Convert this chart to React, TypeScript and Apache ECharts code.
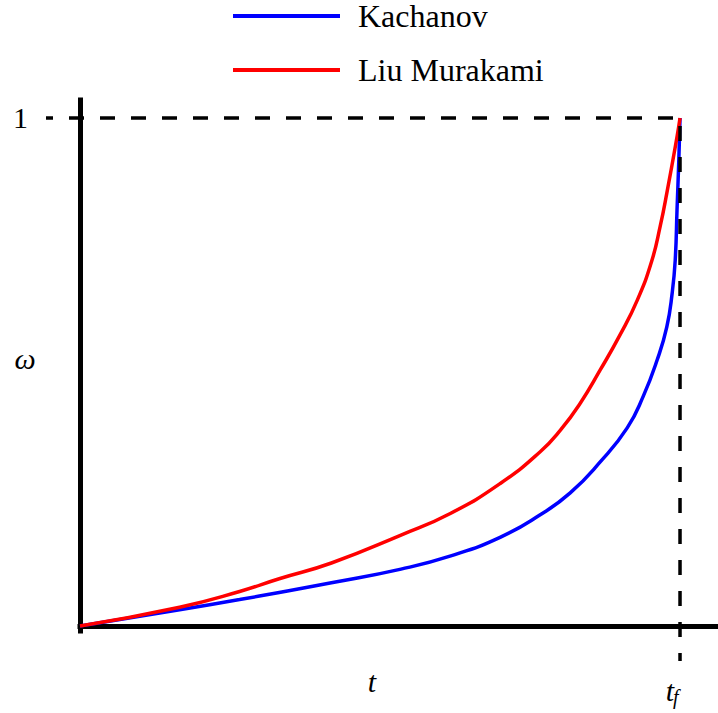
import React, { useEffect, useRef } from "react";
import * as echarts from "echarts";

// Normalised time t/t_f and damage ω for the two creep-damage models
const SERIES_NAMES = ["Kachanov", "Liu Murakami"];

const KACHANOV_T = [0, 0.166, 0.266, 0.332, 0.419, 0.535, 0.618, 0.701, 0.767, 0.817, 0.867, 0.912, 0.939, 0.962, 0.978, 0.987, 0.992, 0.995, 0.998, 1];
const KACHANOV_W = [0, 0.032, 0.052, 0.066, 0.085, 0.112, 0.138, 0.175, 0.219, 0.262, 0.323, 0.39, 0.453, 0.524, 0.589, 0.656, 0.72, 0.819, 0.917, 1];

const LIU_T = [0, 0.166, 0.266, 0.332, 0.419, 0.535, 0.618, 0.701, 0.767, 0.801, 0.834, 0.867, 0.9, 0.929, 0.953, 0.967, 0.978, 0.995, 1];
const LIU_W = [0, 0.037, 0.068, 0.093, 0.124, 0.179, 0.222, 0.281, 0.343, 0.386, 0.439, 0.504, 0.573, 0.642, 0.719, 0.787, 0.852, 0.963, 1];

// Failure point (t_f, ω = 1)
const T_FAIL = 1;
const W_FAIL = 1;

// Axis texts
const TICK_Y = "1";
const NAME_X = "t";
const NAME_Y = "ω";
const TICK_X_MAIN = "t";
const TICK_X_SUB = "f";

const COLORS = ["#0000ff", "#ff0000"];
const SERIF = "'Liberation Serif', 'Times New Roman', serif";

function pairs(xs: number[], ys: number[]) {
  return xs.map((x, i) => [x, ys[i]]);
}

export default function App() {
  const ref = useRef<HTMLDivElement>(null);

  useEffect(() => {
    if (!ref.current) return;
    const chart = echarts.init(ref.current, null, { renderer: "svg" });

    const lineSeries = (name: string, data: number[][], color: string) => ({
      name,
      type: "line",
      data,
      showSymbol: false,
      symbol: "none",
      smooth: 0.5,
      lineStyle: { color, width: 3.5 },
      itemStyle: { color },
      z: 3,
    });

    chart.setOption({
      animation: false,
      backgroundColor: "#ffffff",
      legend: {
        orient: "vertical",
        left: 233,
        top: 0,
        padding: 0,
        itemGap: 22,
        itemWidth: 107,
        itemHeight: 4,
        icon: "rect",
        selectedMode: false,
        data: SERIES_NAMES,
        textStyle: {
          fontFamily: SERIF,
          fontSize: 32,
          lineHeight: 30,
          color: "#000",
          padding: [0, 0, 0, 13],
        },
      },
      grid: { left: 80, right: 0, top: 100, bottom: 82 },
      xAxis: {
        type: "value",
        min: 0,
        max: 1.0633,
        axisLine: { show: true, lineStyle: { color: "#000", width: 5, cap: "square" } },
        axisTick: { show: false },
        axisLabel: { show: false },
        splitLine: { show: false },
      },
      yAxis: {
        type: "value",
        min: -0.00984,
        max: 1.03543,
        axisLine: { show: true, lineStyle: { color: "#000", width: 5, cap: "square" } },
        axisTick: { show: false },
        axisLabel: { show: false },
        splitLine: { show: false },
      },
      series: [
        lineSeries(SERIES_NAMES[0], pairs(KACHANOV_T, KACHANOV_W), COLORS[0]),
        lineSeries(SERIES_NAMES[1], pairs(LIU_T, LIU_W), COLORS[1]),
      ],
    });

    // Dashed guides and math labels placed from the failure point in pixel space
    const [px, py] = chart.convertToPixel({ xAxisIndex: 0, yAxisIndex: 0 }, [T_FAIL, W_FAIL]) as number[];
    const dash = { stroke: "#000", lineWidth: 3.5, lineDash: [15, 16] };
    const mathText = (text: string, x: number, y: number, size: number, align: string, italic = true) => ({
      type: "text",
      x,
      y,
      z: 10,
      style: {
        text,
        fill: "#000",
        fontFamily: SERIF,
        fontSize: size,
        fontStyle: italic ? "italic" : "normal",
        align,
        verticalAlign: "middle",
      },
    });

    chart.setOption({
      graphic: [
        {
          type: "line",
          z: 10,
          shape: { x1: 46, y1: py, x2: px, y2: py },
          style: { ...dash, lineDashOffset: 8 },
        },
        {
          type: "line",
          z: 10,
          shape: { x1: px, y1: py + 8, x2: px, y2: 661 },
          style: { ...dash },
        },
        mathText(TICK_Y, 28, py, 30, "right", false),
        mathText(NAME_Y, 25, 358, 30, "center"),
        mathText(NAME_X, 372, 681, 30, "center"),
        mathText(TICK_X_MAIN, px - 6, 690, 30, "right"),
        mathText(TICK_X_SUB, px - 7, 697, 20, "left"),
      ],
    });

    return () => chart.dispose();
  }, []);

  return (
    <div
      ref={ref}
      style={{ position: "absolute", left: 0, top: 0, width: 718, height: 713 }}
    />
  );
}
